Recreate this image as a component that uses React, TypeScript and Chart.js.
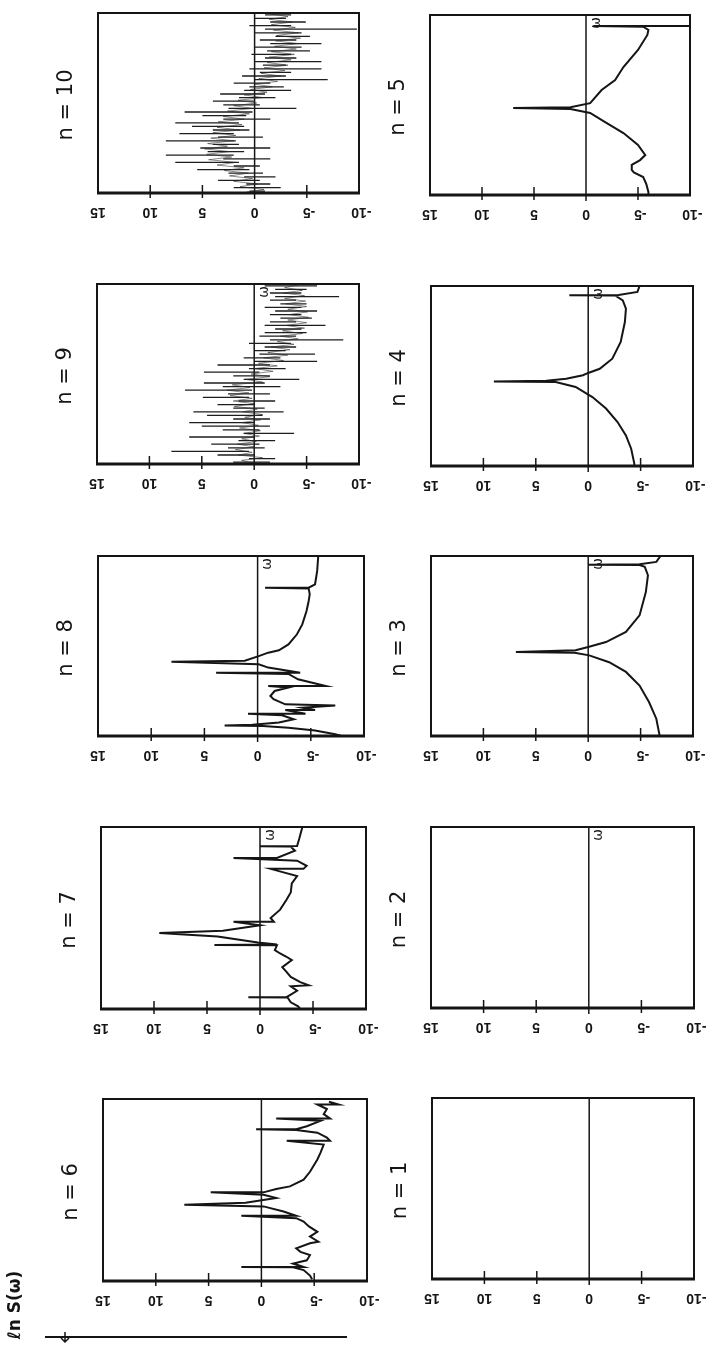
import React, { useEffect, useRef } from 'react';
import { Chart, registerables } from 'chart.js';

Chart.register(...registerables);

// ---------- data ----------
const tickValues = [15, 10, 5, 0, -5, -10];
const yAxisTitle = 'ℓn S(ω)';
const omegaMark = 'ω';

// [ln S, ω (0..100 of panel height)]
const spectrumN1: [number, number][] = [];
const spectrumN2: [number, number][] = [];

const spectrumN3: [number, number][] = [
  [-6.8, 0], [-6.8, 0.7], [-6.5, 9.6], [-5.8, 18.9], [-4.9, 28], [-3.6, 35.6], [-2.0, 41],
  [-0.1, 44.8], [1.3, 46.3], [6.9, 46.7], [1.2, 47.6], [0, 49.4], [-1.7, 52.2], [-3.6, 57.8],
  [-4.9, 67], [-5.5, 80], [-5.7, 89.3], [-5.4, 94], [-4.9, 95.0], [0, 95.2], [-4.9, 95.4],
  [-6.5, 96.7], [-6.9, 100],
];

const spectrumN4: [number, number][] = [
  [-4.4, 0], [-4.4, 1.3], [-4.1, 9.6], [-3.6, 17], [-2.8, 24.4], [-1.7, 31.9], [-0.4, 38.3],
  [1.2, 43.9], [3.1, 46.7], [9.0, 47], [4.0, 47.3], [2.1, 48.5], [0.5, 50.4], [0, 51.7],
  [-1.1, 54], [-2.3, 59.6], [-3.1, 68.9], [-3.5, 80], [-3.6, 87.4], [-3.3, 92], [-2.6, 94.6],
  [1.8, 94.8], [-2.9, 95], [-4.7, 96.7], [-4.9, 100],
];

const spectrumN5: [number, number][] = [
  [-6.0, 0], [-6.0, 1.7], [-5.8, 6], [-5.5, 10], [-4.6, 12.5], [-4.4, 13.9], [-4.4, 16.7],
  [-5.2, 19.4], [-5.7, 22.2], [-5.0, 27.8], [-3.6, 34.4], [-1.8, 40.6], [-0.4, 45.6],
  [1.5, 47.8], [7.0, 48.3], [1.5, 48.7], [-0.4, 51], [-1.5, 58.3], [-2.8, 63.9], [-3.6, 71.1],
  [-5.0, 80.6], [-5.9, 88.9], [-6.0, 91.7], [-5.5, 93.5], [-0.7, 93.9], [-10.5, 93.9],
];

const spectrumN6: [number, number][] = [
  [-4.8, 1], [-4.6, 3], [-4.0, 6], [-3.0, 7.5], [1.9, 7.7], [-4.0, 7.7], [-3.0, 9.6],
  [-4.3, 11.4], [-4.6, 14.2], [-3.7, 16], [-3.3, 17.9], [-4.6, 20.7], [-5.4, 21.6],
  [-4.6, 24.4], [-5.3, 27], [-4.5, 30], [-4.0, 32.7], [-3.3, 34.5], [1.9, 35.8], [-3.3, 35.8],
  [-2.1, 38.2], [-0.2, 41], [7.3, 41.9], [1.5, 43], [-1.4, 45.6], [-0.2, 47.4], [4.8, 48.7],
  [-0.2, 48.7], [-1.4, 50.5], [-2.7, 52], [-4.0, 55.7], [-4.6, 60], [-5.3, 66.8], [-5.6, 70.5],
  [-5.9, 75], [-2.4, 77], [-6.5, 77], [-6.2, 78.8], [-5.3, 81.5], [-3.3, 83], [0.5, 83.4],
  [-3.3, 83.4], [-4.3, 85], [-5.6, 88], [-1.4, 89.3], [-6.5, 89.3], [-5.9, 91.7], [-6.2, 94.5],
  [-5.3, 97], [-7.3, 97], [-6.4, 98.5],
];

const spectrumN7: [number, number][] = [
  [-3.8, 0], [-3.6, 1.5], [-2.9, 3.7], [-2.6, 6.3], [1.1, 6.5], [-2.5, 6.5], [-3.5, 10],
  [-2.9, 12.5], [-4.6, 13], [-3.8, 14.8], [-2.9, 17.6], [-2.5, 20.4], [-2.1, 23], [-3.0, 26.9],
  [-2.5, 28.7], [-1.9, 30.5], [-1.4, 32.4], [-1.6, 35], [4.3, 35.2], [-1.6, 35.4], [0.2, 36.5],
  [4.0, 39.8], [9.5, 41.7], [3.5, 43], [0, 46], [2.5, 48], [-1.3, 48], [-1.0, 50], [-1.9, 54.6],
  [-2.5, 60], [-2.9, 64], [-3.0, 69], [-3.5, 73], [-1.0, 77], [-4.1, 77], [-4.4, 78.7],
  [-3.5, 81.5], [2.5, 83], [-1.6, 83], [-3.3, 87], [-2.9, 89.2], [0, 89.4], [-3.5, 89.6],
  [-3.7, 93.5], [-4.0, 100],
];

const spectrumN8: [number, number][] = [
  [-7.9, 0], [-7.3, 1], [-5.4, 3], [-2.9, 4.6], [-0.5, 5.6], [3.1, 5.9], [0.5, 6.2], [-2.0, 7.5],
  [-3.4, 9.3], [-2.3, 11.5], [0.9, 12.4], [-4.5, 12.4], [-3.5, 13.5], [-2.6, 14.4], [-5.4, 14.4],
  [-4.2, 15.7], [-7.3, 17], [-2.6, 17.6], [-1.5, 20.4], [-1.2, 22.2], [-1.6, 25], [-2.9, 26.9],
  [-1.0, 27.8], [-6.4, 27.8], [-3.8, 31.5], [-2.9, 34.5], [3.9, 35.2], [-4.0, 35.2], [-1.0, 38],
  [-0.1, 39.8], [8.1, 41.3], [1.2, 41.8], [-0.1, 44.4], [-1.0, 46.3], [-2.0, 47.6], [-2.9, 50.9],
  [-3.7, 56.5], [-4.2, 62], [-4.6, 69.4], [-4.8, 75], [-4.9, 78.7], [-4.8, 82], [-0.7, 82.4],
  [-4.8, 82.4], [-5.4, 84.3], [-5.6, 91.7], [-5.7, 100],
];

// noisy spectra: horizontal bin lines [ω, left extent, right extent]
const binsN9: [number, number, number][] = [
  [1, 2.0, -1.5], [3, 0.5, -2.0], [5, 3.5, 0.0], [7, 7.9, 0.5], [9, 2.5, -1.0], [11, 4.1, -0.5],
  [13, 1.5, -2.0], [15, 6.2, 0.0], [17, 1.0, -3.8], [19, 3.0, -0.5], [21, 5.0, -1.5], [23, 6.2, 0.0],
  [25, 2.0, -1.5], [27, 4.5, -0.8], [29, 5.8, -2.8], [31, 2.0, -1.0], [33, 3.5, 0.0], [35, 1.5, -2.0],
  [37, 4.9, 0.5], [39, 2.5, -1.5], [41, 6.6, 0.2], [43, 3.0, -2.5], [45, 4.8, -1.0], [47, 1.0, -4.3],
  [49, 2.0, -1.5], [51, 4.8, -0.5], [53, 0.5, -3.0], [55, 3.5, -1.5], [57, 0.0, -6.0], [59, 1.0, -2.5],
  [61, -0.5, -5.8], [63, 0.0, -3.0], [65, -1.0, -4.0], [67, 0.5, -3.5], [69, -1.5, -8.5], [71, -0.5, -4.0],
  [73, -1.0, -5.0], [75, -2.0, -4.5], [77, -1.0, -6.8], [79, -1.5, -4.0], [81, -2.5, -5.5], [83, -1.5, -4.5],
  [85, -2.0, -6.0], [87, -1.0, -4.5], [89, -2.5, -5.0], [91, -1.5, -4.0], [93, -2.0, -8.1], [95, -1.5, -4.5],
  [97, -2.0, -5.0], [99, -1.0, -6.0],
];
// central noisy band of n = 9: [ln S, ω]
const cloudN9: [number, number][] = [
  [0.0, 0.5], [1.2, 2], [-0.8, 3.5], [1.5, 5], [0.2, 6.5], [1.8, 8], [0.0, 9.5], [1.6, 11], [-0.2, 12.5],
  [1.2, 14], [-0.5, 15.5], [1.0, 17], [-0.6, 18.5], [1.4, 20], [-0.4, 21.5], [1.2, 23], [-0.6, 24.5],
  [0.9, 26], [-0.8, 27.5], [1.1, 29], [-0.3, 30.5], [1.9, 32], [0.0, 33.5], [2.0, 35], [0.2, 36.5],
  [2.3, 38], [0.5, 39.5], [2.6, 41], [0.4, 42.5], [2.1, 44], [-0.8, 45.5], [0.8, 47], [-1.5, 48.5],
  [0.3, 50], [-1.8, 51.5], [0.0, 53], [-2.2, 54.5], [-0.4, 56], [-2.8, 57.5], [-0.9, 59], [-3.2, 60.5],
  [-1.3, 62], [-3.4, 63.5], [-1.6, 65], [-3.8, 66.5], [-2.2, 68], [-4.2, 69.5], [-2.5, 71], [-4.6, 72.5],
  [-2.7, 74], [-4.8, 75.5], [-3.0, 77], [-5.0, 78.5], [-3.2, 80], [-5.2, 81.5], [-3.3, 83], [-5.1, 84.5],
  [-3.2, 86], [-5.0, 87.5], [-3.0, 89], [-4.9, 90.5], [-2.9, 92], [-4.8, 93.5], [-2.8, 95], [-4.6, 96.5],
  [-2.9, 98], [-4.2, 99.5],
];

const binsN10: [number, number, number][] = [
  [1, 0.5, -1.0], [3, 2.0, -2.5], [5, 0.8, -1.5], [7, 3.5, -0.5], [9, 1.0, -2.0], [11, 2.5, -0.8],
  [13, 5.5, 0.5], [15, 2.0, -0.5], [17, 7.6, 1.5], [19, 3.0, -1.5], [21, 8.5, 2.0], [23, 4.5, 1.0],
  [25, 5.2, -1.5], [27, 4.0, 1.5], [29, 8.5, 1.8], [31, 3.5, -0.8], [33, 7.2, 2.0], [35, 4.0, 0.5],
  [37, 6.0, 1.0], [39, 7.6, 1.5], [41, 3.0, -1.5], [43, 5.0, 0.8], [45, 6.7, 0.2], [47, 2.5, -4.0],
  [49, 3.0, -0.5], [51, 4.0, 0.0], [53, 1.5, -2.0], [55, 3.3, -1.0], [57, 1.0, -3.5], [59, 0.5, -2.8],
  [61, 2.0, -1.5], [63, 0.0, -7.0], [65, 1.2, -3.0], [67, -0.5, -3.5], [69, 0.5, -6.4], [71, -0.8, -3.0],
  [73, 0.0, -6.4], [75, -1.0, -4.0], [77, 0.3, -3.5], [79, -1.2, -5.3], [81, 0.0, -4.5], [83, -1.5, -6.4],
  [85, -0.5, -4.0], [87, -2.0, -5.3], [89, 0.0, -4.5], [91, -1.0, -9.8], [93, 0.5, -3.5], [95, -1.5, -4.9],
  [97, 0.0, -3.0], [99, -1.0, -3.5],
];
// central noisy band of n = 10: [ln S, ω]
const cloudN10: [number, number][] = [
  [0.8, 0.5], [-0.9, 2], [1.4, 3.5], [-0.3, 5], [2.0, 6.5], [0.2, 8], [2.4, 9.5], [0.6, 11], [2.9, 12.5],
  [1.0, 14], [3.6, 15.5], [1.8, 17], [4.4, 18.5], [2.2, 20], [4.6, 21.5], [2.4, 23], [4.8, 24.5],
  [2.6, 26], [4.5, 27.5], [2.0, 29], [4.2, 30.5], [1.8, 32], [4.0, 33.5], [1.4, 35], [3.6, 36.5],
  [1.2, 38], [3.5, 39.5], [1.0, 41], [3.0, 42.5], [0.5, 44], [2.6, 45.5], [0.2, 47], [2.0, 48.5],
  [-0.2, 50], [1.6, 51.5], [-0.8, 53], [1.0, 54.5], [-1.2, 56], [0.4, 57.5], [-1.7, 59], [0.0, 60.5],
  [-2.2, 62], [-0.4, 63.5], [-2.5, 65], [-0.6, 66.5], [-2.9, 68], [-0.9, 69.5], [-3.2, 71], [-1.2, 72.5],
  [-3.5, 74], [-1.4, 75.5], [-3.8, 77], [-1.6, 78.5], [-4.0, 80], [-1.9, 81.5], [-4.2, 83], [-2.0, 84.5],
  [-4.4, 86], [-2.1, 87.5], [-4.2, 89], [-1.8, 90.5], [-3.9, 92], [-1.6, 93.5], [-3.6, 95], [-1.4, 96.5],
  [-3.2, 98], [-1.5, 99.5],
];

function binsToSegments(bins: [number, number, number][]): ([number, number] | null)[] {
  const out: ([number, number] | null)[] = [];
  bins.forEach(([w, l, r]) => {
    out.push([l, w], [r, w], null);
  });
  return out;
}

// ---------- layout ----------
const INK = '#151515';
const colCells = [{ x: 0, w: 382 }, { x: 382, w: 333 }];
const rowCells = [{ y: 0, h: 272 }, { y: 272, h: 271 }, { y: 543, h: 271 }, { y: 814, h: 271 }, { y: 1085, h: 261 }];

type Pt = [number, number] | null;
type PanelCfg = {
  n: number; data: Pt[]; cloud?: Pt[]; col: number; row: number;
  frame: [number, number, number, number]; omega: boolean; footer?: boolean;
};

const panels: PanelCfg[] = [
  { n: 10, data: binsToSegments(binsN10), cloud: cloudN10, col: 0, row: 0, frame: [98, 13, 359, 193], omega: false },
  { n: 9, data: binsToSegments(binsN9), cloud: cloudN9, col: 0, row: 1, frame: [97, 284, 359, 464], omega: true },
  { n: 8, data: spectrumN8, col: 0, row: 2, frame: [98, 556, 364, 736], omega: true },
  { n: 7, data: spectrumN7, col: 0, row: 3, frame: [101, 827, 366, 1009], omega: true },
  { n: 6, data: spectrumN6, col: 0, row: 4, frame: [103, 1099, 367, 1281], omega: false, footer: true },
  { n: 5, data: spectrumN5, col: 1, row: 0, frame: [430, 15, 690, 195], omega: true },
  { n: 4, data: spectrumN4, col: 1, row: 1, frame: [431, 286, 693, 466], omega: true },
  { n: 3, data: spectrumN3, col: 1, row: 2, frame: [431, 556, 693, 736], omega: true },
  { n: 2, data: spectrumN2, col: 1, row: 3, frame: [431, 827, 694, 1008], omega: true },
  { n: 1, data: spectrumN1, col: 1, row: 4, frame: [432, 1098, 694, 1279], omega: false },
];

const toXY = (pts: Pt[]) => pts.map((p) => (p ? { x: p[0], y: p[1] } : { x: null, y: null }));

const panelDecor = {
  id: 'panelDecor',
  beforeDatasetsDraw(chart: any) {
    const { ctx, chartArea: a, scales } = chart;
    const x = scales.x;
    ctx.save();
    ctx.strokeStyle = INK;
    ctx.lineWidth = 1.5;
    const x0 = x.getPixelForValue(0);
    ctx.beginPath();
    ctx.moveTo(x0, a.top - 1);
    ctx.lineTo(x0, a.bottom + 6);
    ctx.stroke();
    ctx.restore();
  },
  afterDraw(chart: any, _args: any, opts: any) {
    const { ctx, chartArea: a, scales } = chart;
    const x = scales.x;
    ctx.save();
    ctx.strokeStyle = INK;
    ctx.fillStyle = INK;
    // frame
    ctx.lineWidth = 2;
    ctx.strokeRect(a.left, a.top, a.right - a.left, a.bottom - a.top);
    ctx.lineWidth = 2.8;
    ctx.beginPath();
    ctx.moveTo(a.left - 1, a.bottom);
    ctx.lineTo(a.right + 1, a.bottom);
    ctx.stroke();
    // tick marks
    ctx.lineWidth = 1.5;
    tickValues.forEach((v) => {
      if (v === 15 || v === -10 || v === 0) return;
      const px = x.getPixelForValue(v);
      ctx.beginPath();
      ctx.moveTo(px, a.bottom - 8);
      ctx.lineTo(px, a.bottom + 5);
      ctx.stroke();
    });
    // tick labels (upside down, as in the scan)
    ctx.font = 'bold 14px "Liberation Sans Narrow", "Liberation Sans", sans-serif';
    ctx.textAlign = 'center';
    ctx.textBaseline = 'middle';
    const minusW = ctx.measureText('-').width;
    tickValues.forEach((v) => {
      const px = x.getPixelForValue(v) + (v < 0 ? minusW / 2 : 0);
      ctx.save();
      ctx.translate(px, a.bottom + 19);
      ctx.rotate(Math.PI);
      ctx.fillText(String(v), 0, 0);
      ctx.restore();
    });
    // n label (rotated, reading bottom to top)
    ctx.save();
    ctx.translate(a.left - 31, (a.top + a.bottom) / 2 + 2);
    ctx.rotate(-Math.PI / 2);
    ctx.font = '21px "DejaVu Sans", sans-serif';
    ctx.fillText(`n = ${opts.n}`, 0, 0);
    ctx.restore();
    // omega mark
    if (opts.omega) {
      const x0 = x.getPixelForValue(0);
      ctx.save();
      ctx.translate(x0 + 10, a.top + 8);
      ctx.rotate(-Math.PI / 2);
      ctx.font = '14px "DejaVu Sans", sans-serif';
      ctx.fillText(omegaMark, 0, 0);
      ctx.restore();
    }
    // footer: axis title and arrow line
    if (opts.footer) {
      const baseY = a.bottom + 56;
      ctx.save();
      ctx.translate(16, a.bottom + 24);
      ctx.rotate(-Math.PI / 2);
      ctx.font = 'bold 17px "DejaVu Sans", sans-serif';
      ctx.fillText(yAxisTitle, 0, 0);
      ctx.restore();
      ctx.lineWidth = 2;
      ctx.beginPath();
      ctx.moveTo(45, baseY);
      ctx.lineTo(347, baseY);
      ctx.stroke();
      ctx.lineWidth = 1.5;
      ctx.beginPath();
      ctx.moveTo(65, baseY - 5);
      ctx.lineTo(65, baseY + 5);
      ctx.moveTo(61, baseY + 1);
      ctx.lineTo(65, baseY + 5);
      ctx.lineTo(69, baseY + 1);
      ctx.stroke();
    }
    ctx.restore();
  },
};

function Panel({ cfg }: { cfg: PanelCfg }) {
  const ref = useRef<HTMLCanvasElement | null>(null);
  const cell = { ...colCells[cfg.col], ...rowCells[cfg.row] };
  useEffect(() => {
    if (!ref.current) return;
    const [l, t, r, b] = cfg.frame;
    const padding = {
      left: l - cell.x,
      top: t - cell.y,
      right: cell.x + cell.w - r,
      bottom: cell.y + cell.h - b,
    };
    const datasets: any[] = [];
    if (cfg.cloud) {
      datasets.push({
        data: toXY(cfg.cloud),
        showLine: true,
        borderColor: 'rgba(40,40,40,0.55)',
        borderWidth: 1,
        pointRadius: 0,
        tension: 0,
        fill: false,
      });
    }
    datasets.push({
      data: toXY(cfg.data),
      showLine: true,
      spanGaps: false,
      borderColor: cfg.cloud ? '#1e1e1e' : INK,
      borderWidth: cfg.cloud ? 1.3 : 2,
      pointRadius: 0,
      tension: 0,
      fill: false,
    });
    const chart = new Chart(ref.current, {
      type: 'scatter',
      data: { datasets },
      options: {
        animation: false,
        responsive: false,
        maintainAspectRatio: false,
        events: [],
        layout: { padding },
        plugins: {
          legend: { display: false },
          tooltip: { enabled: false },
          panelDecor: { n: cfg.n, omega: cfg.omega, footer: !!cfg.footer },
        } as any,
        scales: {
          x: { type: 'linear', min: -10, max: 15, reverse: true, display: false },
          y: { type: 'linear', min: 0, max: 100, display: false },
        },
      },
      plugins: [panelDecor as any],
    });
    return () => chart.destroy();
  }, []);
  return (
    <canvas
      ref={ref}
      width={cell.w}
      height={cell.h}
      style={{ position: 'absolute', left: cell.x, top: cell.y, width: cell.w, height: cell.h }}
    />
  );
}

export default function App() {
  return (
    <div style={{ position: 'absolute', left: 0, top: 0, width: 715, height: 1346, background: '#fff', overflow: 'hidden' }}>
      {panels.map((p) => (
        <Panel key={p.n} cfg={p} />
      ))}
    </div>
  );
}
